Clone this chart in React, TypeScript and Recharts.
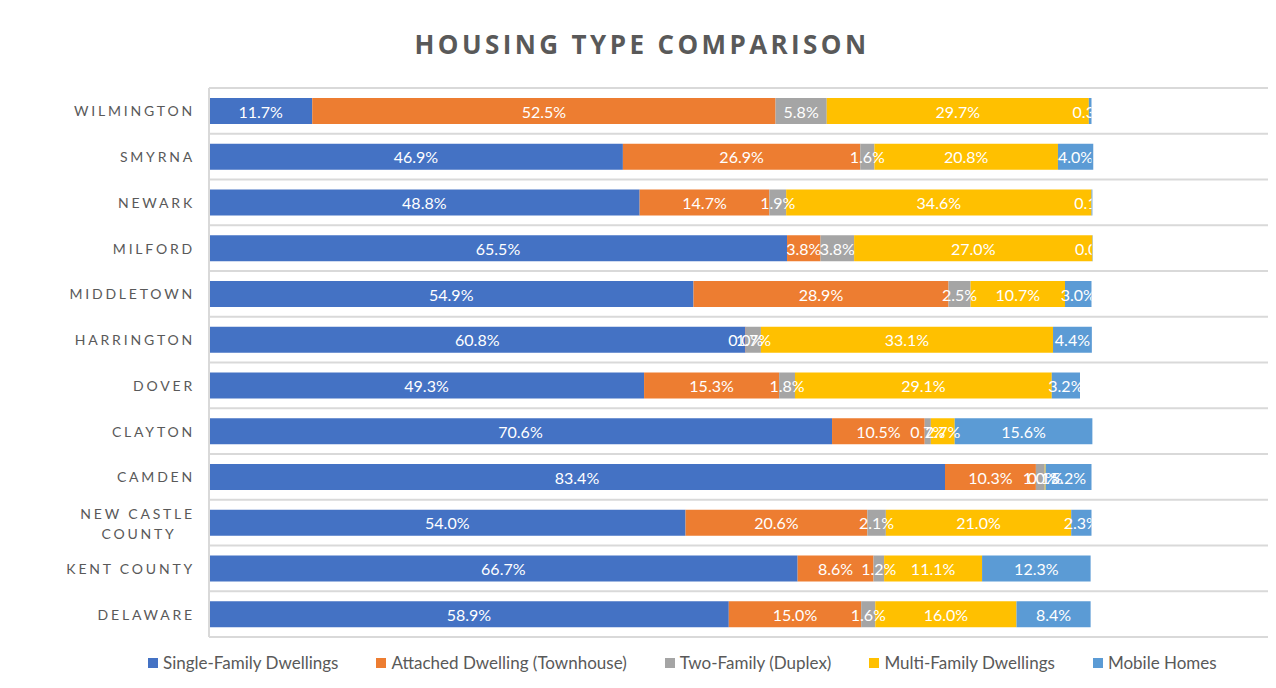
import { Bar, BarChart, CartesianGrid, LabelList, XAxis, YAxis } from "recharts";

const cities = [
  "WILMINGTON",
  "SMYRNA",
  "NEWARK",
  "MILFORD",
  "MIDDLETOWN",
  "HARRINGTON",
  "DOVER",
  "CLAYTON",
  "CAMDEN",
  "NEW CASTLE COUNTY",
  "KENT COUNTY",
  "DELAWARE",
];
const singleFamily = [11.7, 46.9, 48.8, 65.5, 54.9, 60.8, 49.3, 70.6, 83.4, 54.0, 66.7, 58.9];
const attached = [52.5, 26.9, 14.7, 3.8, 28.9, 0.04, 15.3, 10.5, 10.3, 20.6, 8.6, 15.0];
const duplex = [5.8, 1.6, 1.9, 3.8, 2.5, 1.7, 1.8, 0.7, 1.0, 2.1, 1.2, 1.6];
const multiFamily = [29.7, 20.8, 34.6, 27.0, 10.7, 33.1, 29.1, 2.7, 0.1, 21.0, 11.1, 16.0];
const mobile = [0.3, 4.0, 0.1, 0.04, 3.0, 4.4, 3.2, 15.6, 5.2, 2.3, 12.3, 8.4];

const series = [
  { key: "single", name: "Single-Family Dwellings", color: "#4472C4" },
  { key: "attached", name: "Attached Dwelling (Townhouse)", color: "#ED7D31" },
  { key: "duplex", name: "Two-Family (Duplex)", color: "#A5A5A5" },
  { key: "multi", name: "Multi-Family Dwellings", color: "#FFC000" },
  { key: "mobile", name: "Mobile Homes", color: "#5B9BD5" },
];

const data = cities.map((city, i) => ({
  city,
  single: singleFamily[i],
  attached: attached[i],
  duplex: duplex[i],
  multi: multiFamily[i],
  mobile: mobile[i],
}));

const W = 1268;
const H = 640;
const AXIS_W = 201;
const RIGHT = 8;
const X_MAX = 120;
// data labels are cut off where the 100% mark sits
const CLIP_X = AXIS_W + ((W - AXIS_W - RIGHT) * 100) / X_MAX;

const grey = "#595959";

function CityTick(props: any) {
  const { x, y, payload } = props;
  const label: string = payload.value;
  const style = { fontFamily: "Lato", fontSize: 14, letterSpacing: 2.8, fill: grey };
  const right = x + 1;
  if (label.length > 14) {
    const words = label.split(" ");
    const first = words.slice(0, -1).join(" ");
    const second = words[words.length - 1];
    const mid = right - first.length * 5.6;
    return (
      <g>
        <text x={right} y={y - 9} textAnchor="end" dominantBaseline="central" {...style}>
          {first}
        </text>
        <text x={mid} y={y + 11} textAnchor="middle" dominantBaseline="central" {...style}>
          {second}
        </text>
      </g>
    );
  }
  return (
    <text x={right} y={y} textAnchor="end" dominantBaseline="central" {...style}>
      {label}
    </text>
  );
}

function ValueLabel(props: any) {
  const { x, y, width, height, value } = props;
  const cx = Number(x) + Number(width) / 2;
  return (
    <svg x={0} y={y} width={CLIP_X} height={height} overflow="hidden">
      <text
        x={cx}
        y={Number(height) / 2}
        textAnchor="middle"
        dominantBaseline="central"
        fill="#ffffff"
        fontFamily="Lato"
        fontSize={16}
      >
        {Number(value).toFixed(1)}%
      </text>
    </svg>
  );
}

export default function App() {
  return (
    <div
      style={{
        position: "relative",
        width: 1290,
        height: 700,
        border: "1px solid #D9D9D9",
        boxSizing: "border-box",
        marginLeft: -1,
        marginTop: -1,
        background: "#fff",
      }}
    >
      <div
        style={{
          position: "absolute",
          top: 18,
          left: 0,
          width: W,
          textAlign: "center",
          fontFamily: "Open Sans",
          fontWeight: 700,
          fontSize: 26,
          letterSpacing: 3.4,
          color: grey,
        }}
      >
        HOUSING TYPE COMPARISON
      </div>
      <BarChart
        width={W}
        height={H}
        data={data}
        layout="vertical"
        margin={{ top: 80, right: RIGHT, bottom: 11, left: 0 }}
        barSize={26}
      >
        <CartesianGrid
          vertical={false}
          stroke="#D9D9D9"
          strokeWidth={2}
          horizontalCoordinatesGenerator={({ offset }: any) =>
            cities.map((_, i) => offset.top + (i * offset.height) / cities.length).concat(offset.top + offset.height)
          }
        />
        <XAxis type="number" domain={[0, X_MAX]} hide />
        <YAxis
          type="category"
          dataKey="city"
          width={AXIS_W}
          tickLine={false}
          tickSize={0}
          tickMargin={15}
          axisLine={{ stroke: "#D9D9D9", strokeWidth: 2 }}
          tick={<CityTick />}
          interval={0}
        />
        {series.map((s) => (
          <Bar key={s.key} dataKey={s.key} name={s.name} stackId="a" fill={s.color} isAnimationActive={false}>
            <LabelList dataKey={s.key} content={<ValueLabel />} />
          </Bar>
        ))}
      </BarChart>
      <div
        style={{
          position: "absolute",
          top: 644,
          left: 140,
          display: "flex",
          gap: 38,
          whiteSpace: "nowrap",
          fontFamily: "Lato",
          fontSize: 17,
          color: grey,
        }}
      >
        {series.map((s) => (
          <div key={s.key} style={{ display: "flex", alignItems: "center" }}>
            <span style={{ width: 10, height: 10, background: s.color, marginRight: 5, display: "inline-block" }} />
            {s.name}
          </div>
        ))}
      </div>
    </div>
  );
}
